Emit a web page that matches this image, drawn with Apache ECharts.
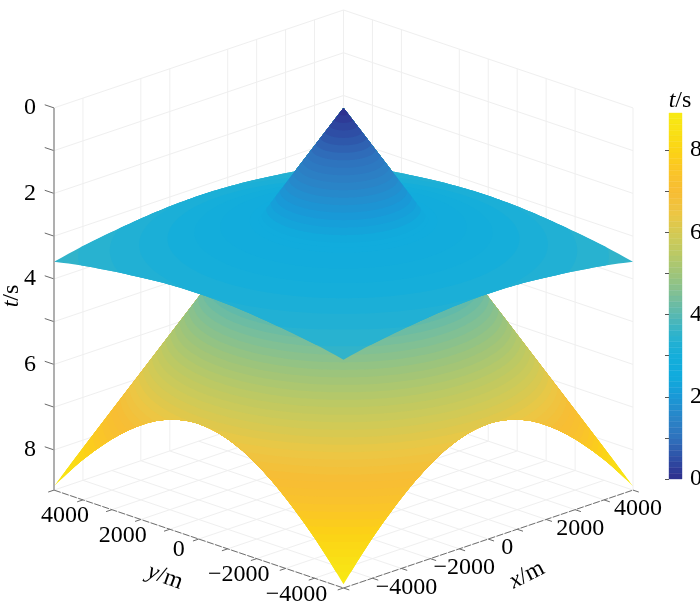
<!DOCTYPE html>
<html>
<head>
<meta charset="utf-8">
<style>html,body{margin:0;padding:0;background:#fff}#main{width:700px;height:603px}</style>
<script src="https://cdn.jsdelivr.net/npm/echarts@6/dist/echarts.min.js"></script>
</head>
<body>
<div id="main"></div>
<script>
// travel time, by distance from the centre (both sheets are round)
var offsets = [0, 500, 1000, 1500, 2000, 2500, 3000, 3500, 4000, 4500, 5000, 5500, 6000, 6500, 7071];
var coneTimes = [0, 0.62, 1.25, 1.88, 2.5, 3.12, 3.75, 4.38, 5, 5.62, 6.25, 6.88, 7.5, 8.12, 8.85];
var sheetTimes = [2.4, 2.42, 2.46, 2.52, 2.59, 2.68, 2.78, 2.89, 3, 3.1, 3.2, 3.3, 3.39, 3.48, 3.6];
var crossingTime = 2.59;

// axis ticks
var planeTicks = [-5000, -4000, -3000, -2000, -1000, 0, 1000, 2000, 3000, 4000, 5000];
var planeLabels = [4000, 2000, 0, -2000, -4000];
var timeTicks = [0, 1, 2, 3, 4, 5, 6, 7, 8];
var timeLabels = [0, 2, 4, 6, 8];
// wall lines that show in the reference (some are missing there)
var leftWallLines = [-4000, -2000, -1000, 1000, 2000, 3000, 4000, 5000];
var rightWallLines = [4000, 3000, 1000, 0, -1000, -2000, -3000, -5000];

var parula = ['#2e2d8c', '#2e4fa5', '#2f72bd', '#2a85c8', '#1a98d6', '#10abdd', '#14aedb', '#2ab2cf', '#55b8b2',
    '#7cbf98', '#9cc47c', '#b9c966', '#d2ca55', '#ecc744', '#f7bd35', '#fac42a', '#fcd116', '#f9e015', '#f8ea14'];

var colorMax = 8.9;
var colorLevels = 64;
var planeEdge = 5000;
var floorTime = 8.94;
var viewTilt = 2.29 / 10000;
var serifFont = '"Liberation Serif", "Times New Roman", serif';
var textColor = '#000';

function project(api, x, y, t) {
    return api.coord([x - y, t - (x + y) * viewTilt]);
}

// linear lookup in the read-off profile
function timeAt(times, r) {
    for (var i = 1; i < offsets.length; i++) {
        if (r <= offsets[i]) {
            return times[i - 1] + (times[i] - times[i - 1]) * (r - offsets[i - 1]) / (offsets[i] - offsets[i - 1]);
        }
    }
    return times[times.length - 1];
}

function radiusAt(times, t) {
    for (var i = 1; i < times.length; i++) {
        if (t <= times[i]) {
            return offsets[i - 1] + (offsets[i] - offsets[i - 1]) * (t - times[i - 1]) / (times[i] - times[i - 1]);
        }
    }
    return offsets[offsets.length - 1];
}

// colour bands as in a flat shaded surf, latest time first so the inner ones paint over
function bandRows(surface, from, to) {
    var rows = [];
    var step = colorMax / colorLevels;
    for (var i = colorLevels - 1; i >= 0; i--) {
        var low = Math.max(i * step, from);
        var high = Math.min((i + 1) * step, to);
        if (low < high) {
            rows.push([surface, low, high, (i + 0.5) * step]);
        }
    }
    return rows;
}

// paint order: cone below the sheet, the sheet, cone tip above the sheet
var surfaceRows = bandRows(0, crossingTime, coneTimes[coneTimes.length - 1])
    .concat(bandRows(1, sheetTimes[0], sheetTimes[sheetTimes.length - 1]))
    .concat(bandRows(0, 0, crossingTime));

var colorbarRows = bandRows(2, 0, colorMax);

function renderBand(params, api) {
    var isCone = api.value(0) === 0;
    var times = isCone ? coneTimes : sheetTimes;
    var rOut = radiusAt(times, api.value(2));
    var points = [];
    // the far side of the cone faces away, only the half towards the viewer shows
    var start = isCone ? 135 : 0;
    var sweep = isCone ? 180 : 360;
    var sectors = isCone ? 120 : 240;
    if (isCone) {
        points.push(project(api, 0, 0, 0));
    }
    for (var j = 0; j <= sectors; j++) {
        var a = (start + j / sectors * sweep) * Math.PI / 180;
        var c = Math.cos(a);
        var s = Math.sin(a);
        var r = Math.min(rOut, planeEdge / Math.max(Math.abs(c), Math.abs(s)));
        points.push(project(api, r * c, r * s, timeAt(times, r)));
    }
    return {
        type: 'polygon',
        shape: {points: points},
        style: {fill: api.visual('color')}
    };
}

function renderColorCell(params, api) {
    var a = api.coord([0, api.value(1)]);
    var b = api.coord([1, api.value(2)]);
    var color = api.visual('color');
    return {
        type: 'rect',
        shape: {x: a[0], y: b[1], width: b[0] - a[0], height: a[1] - b[1]},
        style: {fill: color, stroke: color, lineWidth: 0.4}
    };
}

// frame rows: x1, y1, t1, x2, y2, t2, kind
var GRID = 0, AXIS = 1, TICK = 2, TIME_AXIS = 3;
var frameRows = [];
var backRows = [];
planeTicks.forEach(function (v) {
    // floor
    backRows.push([v, -planeEdge, floorTime, v, planeEdge, floorTime, GRID]);
    backRows.push([-planeEdge, v, floorTime, planeEdge, v, floorTime, GRID]);
    // ticks on the two front edges
    frameRows.push([-planeEdge, v, floorTime, -planeEdge - 200, v, floorTime, TICK]);
    frameRows.push([v, -planeEdge, floorTime, v, -planeEdge - 200, floorTime, TICK]);
});
leftWallLines.forEach(function (v) {
    backRows.push([v, planeEdge, 0, v, planeEdge, floorTime, GRID]);
});
rightWallLines.forEach(function (v) {
    backRows.push([planeEdge, v, 0, planeEdge, v, floorTime, GRID]);
});
timeTicks.forEach(function (t) {
    backRows.push([-planeEdge, planeEdge, t, planeEdge, planeEdge, t, GRID]);
    backRows.push([planeEdge, planeEdge, t, planeEdge, -planeEdge, t, GRID]);
    frameRows.push([-planeEdge, planeEdge, t, -planeEdge, planeEdge + 320, t, TICK]);
});
frameRows.push([-planeEdge, planeEdge, floorTime, -planeEdge, -planeEdge, floorTime, AXIS]);
frameRows.push([-planeEdge, -planeEdge, floorTime, planeEdge, -planeEdge, floorTime, AXIS]);
frameRows.push([-planeEdge, planeEdge, 0, -planeEdge, planeEdge, floorTime, TIME_AXIS]);

var lineStyles = {};
lineStyles[GRID] = {stroke: '#efefef', lineWidth: 1};
lineStyles[AXIS] = {stroke: '#707070', lineWidth: 1, lineDash: [7, 1.5]};
lineStyles[TICK] = {stroke: '#6a6a6a', lineWidth: 1};
lineStyles[TIME_AXIS] = {stroke: '#9b9b9b', lineWidth: 1.6};

function renderFrame(params, api) {
    var a = project(api, api.value(0), api.value(1), api.value(2));
    var b = project(api, api.value(3), api.value(4), api.value(5));
    return {
        type: 'line',
        shape: {x1: a[0], y1: a[1], x2: b[0], y2: b[1]},
        style: lineStyles[api.value(6)]
    };
}

// tick label rows: x, y, t, text, dx, dy
var labelRows = [];
planeLabels.forEach(function (v) {
    var text = v < 0 ? '\u2212' + (-v) : String(v);
    labelRows.push([-planeEdge, v, floorTime, text, v === 0 ? -20 : -18, v === 0 ? 11 : 16, 'center']);
    labelRows.push([v, -planeEdge, floorTime, text, v === 0 ? 19 : 34, 9, 'center']);
});
timeLabels.forEach(function (t) {
    labelRows.push([-planeEdge, planeEdge, t, String(t), -18, 0, 'right']);
});

function renderLabel(params, api) {
    var row = labelRows[params.dataIndex];
    var p = project(api, row[0], row[1], row[2]);
    return {
        type: 'text',
        x: p[0] + row[4],
        y: p[1] + row[5],
        style: {
            text: row[3],
            fill: textColor,
            font: '24px ' + serifFont,
            textAlign: row[6],
            textVerticalAlign: 'middle'
        }
    };
}

function axisTitle(name, unit, left, top, angle) {
    return {
        type: 'text',
        x: left,
        y: top,
        rotation: angle * Math.PI / 180,
        z: 10,
        style: {
            text: '{i|' + name + '}{n|/' + unit + '}',
            align: 'center',
            verticalAlign: 'middle',
            rich: {
                i: {font: 'italic 24px ' + serifFont, fill: textColor},
                n: {font: '24px ' + serifFont, fill: textColor}
            }
        }
    };
}

var myChart = echarts.init(document.getElementById('main'), null, {renderer: 'canvas'});

var option = {
    animation: false,
    backgroundColor: '#fff',
    grid: [
        {left: 54, right: 67, top: 10, bottom: 15, outerBoundsMode: 'none'},
        // the labels run up to the page edge, keep the bar its own size
        {left: 669, width: 13, top: 113, height: 366, outerBoundsMode: 'none'}
    ],
    xAxis: [
        {type: 'value', gridIndex: 0, min: -10000, max: 10000, show: false},
        {type: 'value', gridIndex: 1, min: 0, max: 1, show: false}
    ],
    yAxis: [
        {type: 'value', gridIndex: 0, min: -2.29, max: 11.23, inverse: true, show: false},
        {
            type: 'value',
            gridIndex: 1,
            min: 0,
            max: colorMax,
            position: 'right',
            splitLine: {show: false},
            axisLine: {show: false},
            axisTick: {
                show: true,
                inside: true,
                length: 4,
                lineStyle: {color: '#555', width: 1},
                customValues: timeTicks
            },
            axisLabel: {
                margin: 8,
                color: textColor,
                fontSize: 24,
                fontFamily: serifFont,
                customValues: timeLabels
            },
            z: 5
        }
    ],
    visualMap: {
        show: false,
        type: 'continuous',
        min: 0,
        max: colorMax,
        dimension: 3,
        seriesIndex: [1, 2],
        inRange: {color: parula}
    },
    graphic: [
        axisTitle('t', 's', 12, 296, 90),
        axisTitle('y', 'm', 165, 577, -20),
        axisTitle('x', 'm', 527, 575, 27),
        axisTitle('t', 's', 680, 101, 0)
    ],
    series: [
        {type: 'custom', name: 'walls', xAxisIndex: 0, yAxisIndex: 0, data: backRows, renderItem: renderFrame, silent: true, clip: false, z: 1},
        {type: 'custom', name: 'surface', xAxisIndex: 0, yAxisIndex: 0, data: surfaceRows, renderItem: renderBand, silent: true, clip: false, z: 2},
        {type: 'custom', name: 'colorbar', xAxisIndex: 1, yAxisIndex: 1, data: colorbarRows, renderItem: renderColorCell, silent: true, z: 2},
        {type: 'custom', name: 'axes', xAxisIndex: 0, yAxisIndex: 0, data: frameRows, renderItem: renderFrame, silent: true, clip: false, z: 3},
        {type: 'custom', name: 'tick labels', xAxisIndex: 0, yAxisIndex: 0, data: labelRows, renderItem: renderLabel, silent: true, clip: false, z: 4}
    ]
};

myChart.setOption(option);
</script>
</body>
</html>
